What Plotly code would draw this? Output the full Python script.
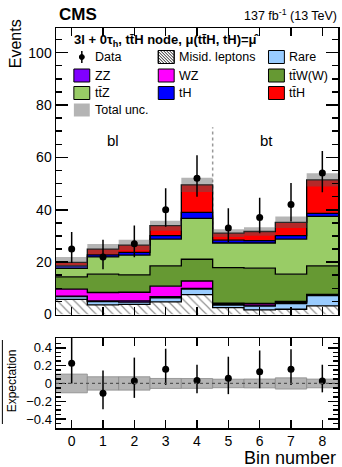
import plotly.graph_objects as go

# ---------------- data ----------------
bins = [0, 1, 2, 3, 4, 5, 6, 7, 8]
misid = [5.8, 3.7, 3.9, 4.8, 7.6, 2.6, 1.8, 2.0, 3.3]
rare = [1.0, 1.2, 0.8, 1.6, 2.1, 1.0, 1.4, 2.2, 3.9]
zz = [0.2, 0.3, 0.5, 0.4, 0.3, 0.3, 0.4, 0.3, 0.2]
wz = [2.7, 3.2, 3.3, 4.0, 2.8, 0.4, 0.6, 0.5, 0.3]
ttw = [4.7, 7.0, 6.6, 7.8, 8.3, 13.6, 13.5, 10.4, 10.9]
ttz = [3.2, 6.6, 7.6, 10.2, 15.6, 9.4, 9.6, 13.4, 18.9]
th = [1.0, 0.8, 1.0, 1.3, 2.3, 1.1, 0.9, 1.3, 1.1]
tth = [1.3, 2.2, 2.8, 3.8, 10.5, 2.7, 3.5, 5.1, 12.8]
tot_unc = [2.1, 1.9, 2.0, 1.9, 2.7, 1.5, 1.6, 2.2, 2.5]

data = [25, 22, 27, 40, 52, 33, 37, 42, 54]
data_up = [6.5, 6.5, 7.0, 8.2, 8.8, 7.6, 7.6, 8.2, 8.4]
data_dn = [5.3, 4.7, 5.1, 6.5, 7.0, 5.3, 6.0, 6.5, 7.3]

ratio = [0.227, -0.11, 0.028, 0.16, 0.032, 0.058, 0.13, 0.16, 0.028]
ratio_up = [0.30, 0.255, 0.262, 0.23, 0.178, 0.242, 0.24, 0.225, 0.182]
ratio_dn = [0.227, 0.18, 0.19, 0.177, 0.142, 0.178, 0.184, 0.177, 0.128]
ratio_unc = [0.105, 0.075, 0.075, 0.056, 0.055, 0.048, 0.05, 0.063, 0.049]

ratio_ticks = [-0.4, -0.2, 0, 0.2, 0.4]
ratio_ticktext = ["\u22120.4", "\u22120.2", "0", "0.2", "0.4"]

FONT = "Liberation Sans, Arial, Helvetica, sans-serif"
C_RARE = "#99ccff"
C_ZZ = "#8000ff"
C_WZ = "#ff00ff"
C_TTW = "#669933"
C_TTZ = "#99cc66"
C_TH = "#0000ff"
C_TTH = "#ff0000"
C_UNC = "rgba(90,90,90,0.45)"

edges = [b - 0.5 for b in bins] + [bins[-1] + 0.5]


def step(vals):
    return list(vals) + [vals[-1]]


fig = go.Figure()

layers = [
    ("Misid. leptons", misid, "white"),
    ("Rare", rare, C_RARE),
    ("ZZ", zz, C_ZZ),
    ("WZ", wz, C_WZ),
    ("ttW(W)", ttw, C_TTW),
    ("ttZ", ttz, C_TTZ),
    ("tH", th, C_TH),
    ("ttH", tth, C_TTH),
]
for name, vals, col in layers:
    kw = {}
    if name.startswith("Misid"):
        kw["fillpattern"] = dict(shape="\\", fgcolor="#222222", bgcolor="white",
                                 size=6, solidity=0.2)
    fig.add_trace(go.Scatter(
        x=edges, y=step(vals), mode="lines", stackgroup="bkg",
        line=dict(shape="hv", color="black", width=1.3),
        fillcolor=col, name=name, showlegend=False, hoverinfo="skip",
        xaxis="x", yaxis="y", **kw))

total = [sum(v) for v in zip(*[l[1] for l in layers])]
lo = [t - u for t, u in zip(total, tot_unc)]
hi = [t + u for t, u in zip(total, tot_unc)]
fig.add_trace(go.Scatter(x=edges, y=step(lo), mode="lines",
                         line=dict(shape="hv", width=0, color="rgba(0,0,0,0)"),
                         showlegend=False, hoverinfo="skip", xaxis="x", yaxis="y"))
fig.add_trace(go.Scatter(x=edges, y=step(hi), mode="lines", fill="tonexty",
                         fillcolor=C_UNC,
                         line=dict(shape="hv", width=0, color="rgba(0,0,0,0)"),
                         showlegend=False, hoverinfo="skip", xaxis="x", yaxis="y"))

fig.add_trace(go.Scatter(
    x=bins, y=data, mode="markers",
    marker=dict(color="black", size=7),
    error_y=dict(type="data", array=data_up, arrayminus=data_dn, color="black",
                 thickness=1.5, width=0),
    showlegend=False, xaxis="x", yaxis="y"))

# ratio panel
fig.add_trace(go.Bar(
    x=bins, y=[2 * u for u in ratio_unc], base=[-u for u in ratio_unc], width=1,
    marker=dict(color="#b4b4b4", line=dict(color="#8a8a8a", width=0.8)),
    showlegend=False, hoverinfo="skip", xaxis="x2", yaxis="y2"))
fig.add_trace(go.Scatter(
    x=bins, y=ratio, mode="markers",
    marker=dict(color="black", size=7),
    error_y=dict(type="data", array=ratio_up, arrayminus=ratio_dn, color="black",
                 thickness=1.5, width=0),
    showlegend=False, xaxis="x2", yaxis="y2"))

# ---------------- layout helpers ----------------
L, R, T, B = 56, 2, 28, 39
W, H = 342, 467
PW, PH = W - L - R, H - T - B


def px(x):
    return (x - L) / PW


def py(y):
    return (H - B - y) / PH


main_bottom = py(314.5)
ratio_top = py(338)

axcommon = dict(showline=True, linecolor="black", linewidth=1.5, mirror="ticks",
                ticks="inside", tickcolor="black", showgrid=False, zeroline=False,
                tickfont=dict(family=FONT, size=14, color="black"))

fig.update_layout(
    width=W, height=H, margin=dict(l=L, r=R, t=T, b=B),
    paper_bgcolor="white", plot_bgcolor="white", showlegend=False,
    font=dict(family=FONT, color="black"),
    bargap=0,
    xaxis=dict(domain=[0, 1], anchor="y", range=[-0.5, 8.5], tickvals=bins,
               showticklabels=False, ticklen=8, tickwidth=1.2, **axcommon),
    yaxis=dict(domain=[main_bottom, 1], anchor="x", range=[0, 109.4], dtick=20,
               ticklen=12, tickwidth=1.5,
               minor=dict(dtick=5, ticklen=6, ticks="inside", tickcolor="black"),
               **axcommon),
    xaxis2=dict(domain=[0, 1], anchor="y2", range=[-0.5, 8.5], tickvals=bins,
                ticklen=8, tickwidth=1.2, **axcommon),
    yaxis2=dict(domain=[0, ratio_top], anchor="x2", range=[-0.5, 0.51],
                tickvals=ratio_ticks, ticktext=ratio_ticktext, ticklen=10,
                tickwidth=1.5,
                minor=dict(dtick=0.05, ticklen=5, ticks="inside", tickcolor="black"),
                **{**axcommon, "tickfont": dict(family=FONT, size=13, color="black")}),
)

shapes = []
# divider between categories
shapes.append(dict(type="line", xref="x", yref="y", x0=4.5, x1=4.5, y0=0, y1=71.5,
                   line=dict(color="#999999", width=1.5, dash="dot"), layer="below"))
# zero line in ratio
shapes.append(dict(type="line", xref="x2", yref="y2", x0=-0.5, x1=8.5, y0=0, y1=0,
                   line=dict(color="#555555", width=1.3, dash="dot"), layer="above"))
# fraction bar of ratio label
shapes.append(dict(type="line", xref="paper", yref="paper", x0=px(2), x1=px(2),
                   y0=py(340), y1=py(424), line=dict(color="black", width=1)))

annotations = []


def ann(text, x, y, size, xanchor="left", yanchor="middle", angle=0, bold=False):
    annotations.append(dict(
        text=("<b>%s</b>" % text) if bold else text, x=px(x), y=py(y),
        xref="paper", yref="paper", xanchor=xanchor, yanchor=yanchor,
        textangle=angle, showarrow=False,
        font=dict(family=FONT, size=size, color="black")))


ann("CMS", 57, 14, 17, bold=True)
ann("137 fb<sup>-1</sup> (13 TeV)", 341, 15, 12.5, xanchor="right")
ann("3l + 0\u03c4<sub>h</sub>, tt\u0304H node, \u03bc(tt\u0304H, tH)=\u03bc\u0302",
    72, 40, 13, bold=True)
ann("bl", 113, 140, 15, xanchor="center")
ann("bt", 268, 140, 15, xanchor="center")
ann("Events", 15, 44, 16, xanchor="center", angle=-90)
ann("Expectation", 12, 381, 12, xanchor="center", angle=-90)
ann("Bin number", 340, 458, 18, xanchor="right")

# ---------------- custom legend ----------------
rows = [57, 75.5, 93, 110]
cols_box = [74, 159, 270]
bw, bh = 16, 13


def box(cx, cy, color, border=True):
    shapes.append(dict(type="rect", xref="paper", yref="paper",
                       x0=px(cx), x1=px(cx + bw), y0=py(cy - bh / 2), y1=py(cy + bh / 2),
                       fillcolor=color,
                       line=dict(color="black" if border else color, width=1 if border else 0)))


legend_entries = [
    (0, 1, "Misid. leptons", "hatch"),
    (0, 2, "Rare", C_RARE),
    (1, 0, "ZZ", C_ZZ),
    (1, 1, "WZ", C_WZ),
    (1, 2, "tt\u0304W(W)", C_TTW),
    (2, 0, "tt\u0304Z", C_TTZ),
    (2, 1, "tH", C_TH),
    (2, 2, "tt\u0304H", C_TTH),
    (3, 0, "Total unc.", "unc"),
]
for r, c, label, col in legend_entries:
    cx, cy = cols_box[c], rows[r]
    if col == "hatch":
        box(cx, cy, "white")
        x0, y0 = cx, cy - bh / 2
        k = -bh
        while k < bw:
            xa, ya = x0 + k, y0
            xb, yb = x0 + k + bh, y0 + bh
            if xa < x0:
                ya += (x0 - xa)
                xa = x0
            if xb > x0 + bw:
                yb -= (xb - (x0 + bw))
                xb = x0 + bw
            if xb > xa:
                shapes.append(dict(type="line", xref="paper", yref="paper",
                                   x0=px(xa), x1=px(xb), y0=py(ya), y1=py(yb),
                                   line=dict(color="#222222", width=1)))
            k += 3
        box(cx, cy, "rgba(0,0,0,0)")
    elif col == "unc":
        box(cx, cy, "#b4b4b4", border=False)
    else:
        box(cx, cy, col)
    ann(label, cx + bw + 3, cy, 12.5)

# data legend entry
shapes.append(dict(type="line", xref="paper", yref="paper", x0=px(82), x1=px(82),
                   y0=py(51), y1=py(63), line=dict(color="black", width=1.5)))
shapes.append(dict(type="circle", xref="paper", yref="paper", x0=px(79.5), x1=px(84.5),
                   y0=py(54.5), y1=py(59.5), fillcolor="black", line=dict(color="black", width=1)))
ann("Data", 93, 57, 12.5)

fig.update_layout(shapes=shapes, annotations=annotations)
fig.write_html("out.html", config={"displayModeBar": False, "staticPlot": True},
               post_script="document.body.style.margin='0';document.body.style.overflow='hidden';")
